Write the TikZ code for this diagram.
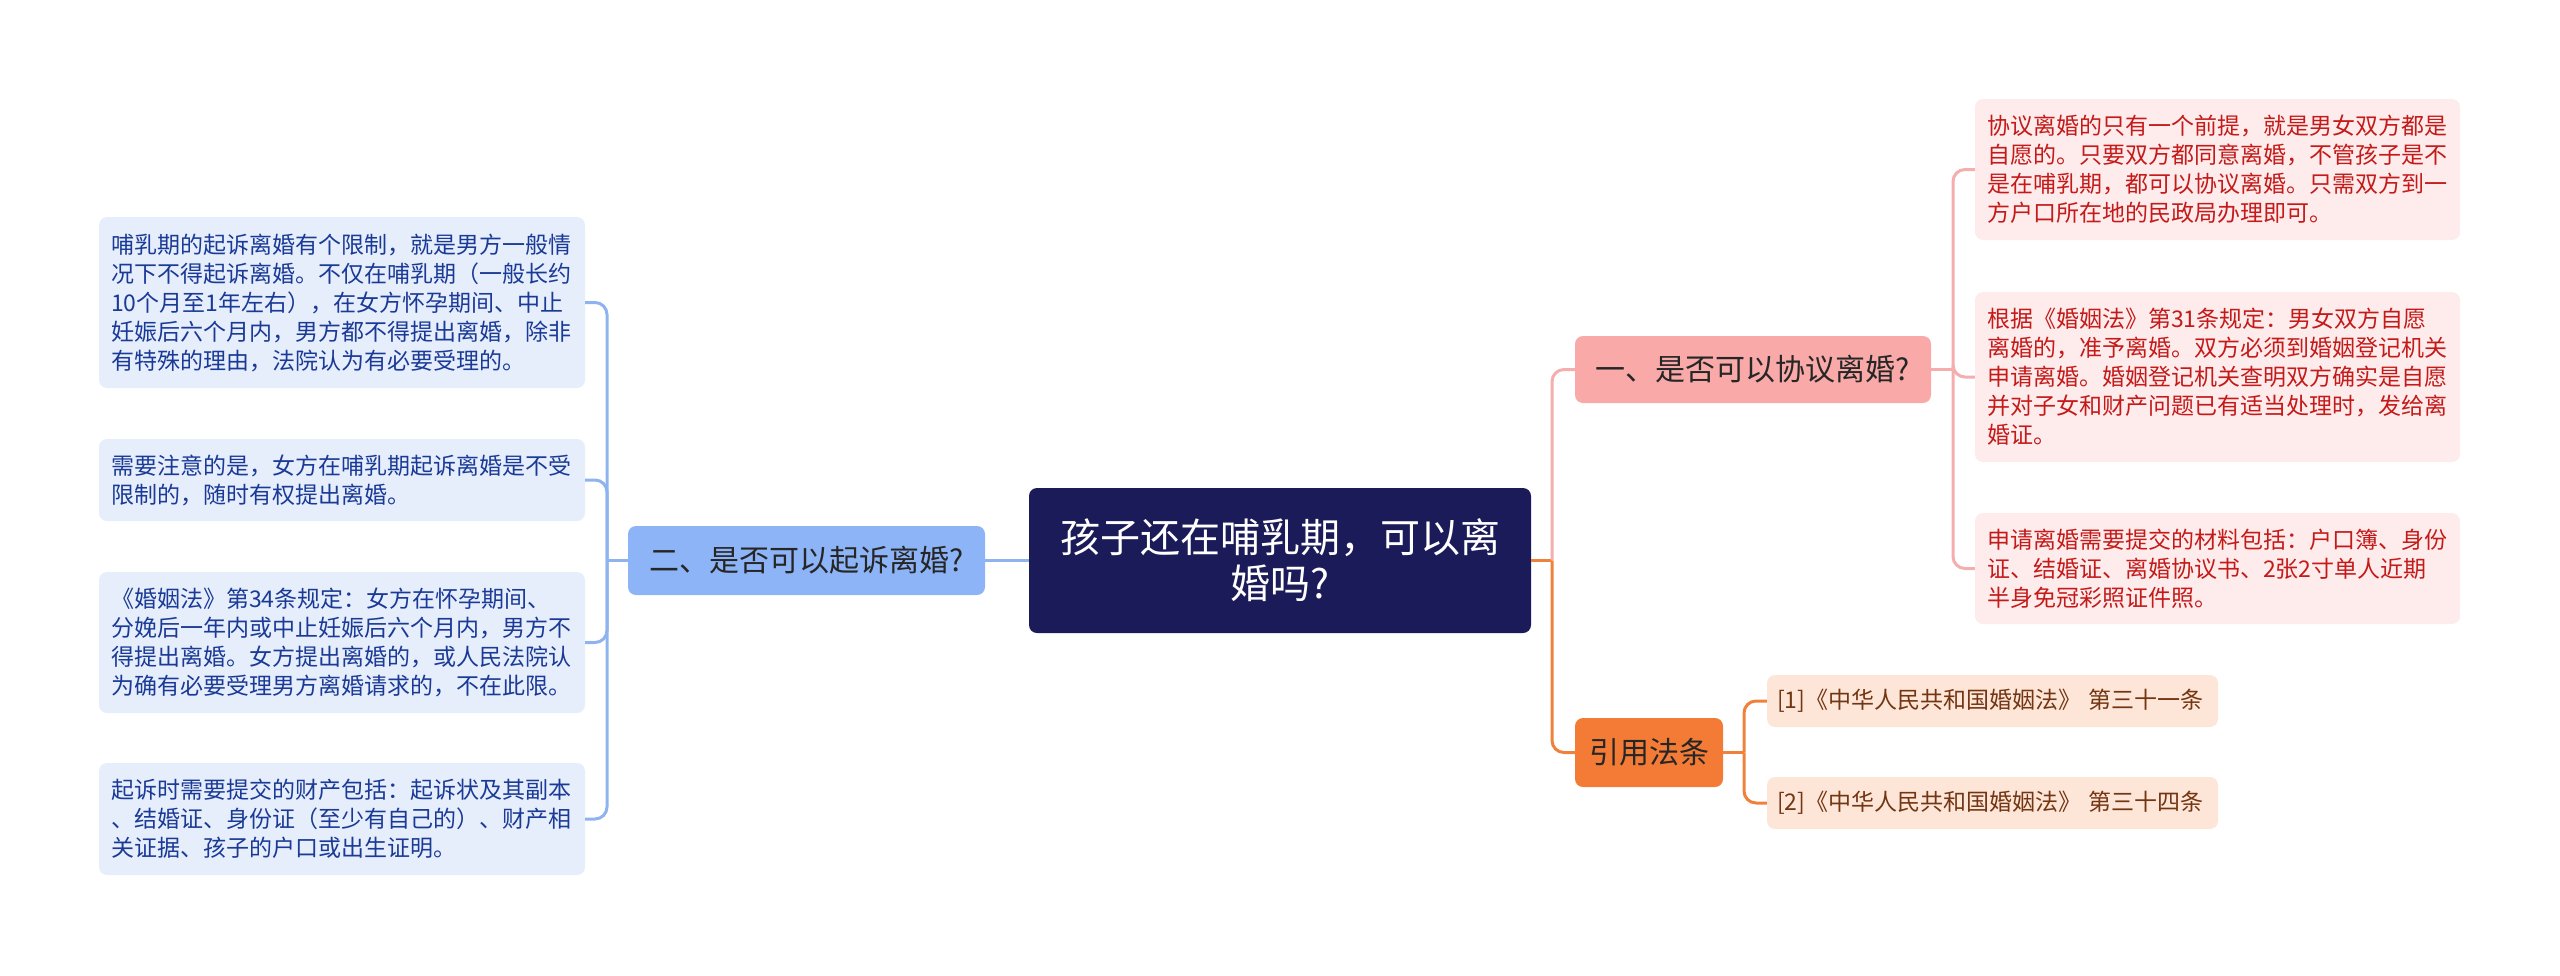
\documentclass[tikz,border=0pt]{standalone}
\usepackage{fontspec}
\setmainfont{Noto Sans CJK SC}
\definecolor{rootfill}{HTML}{1C1B59}
\definecolor{lbfill}{HTML}{8DB4F6}
\definecolor{llfill}{HTML}{E6EEFC}
\definecolor{lltext}{HTML}{1A3A96}
\definecolor{lline}{HTML}{8FB3EF}
\definecolor{rbfill}{HTML}{F8A9A8}
\definecolor{rlfill}{HTML}{FDECEB}
\definecolor{rltext}{HTML}{C41A1A}
\definecolor{rline}{HTML}{F5AEAE}
\definecolor{ofill}{HTML}{F47B36}
\definecolor{oline}{HTML}{F0813D}
\definecolor{olfill}{HTML}{FDE6D8}
\definecolor{oltext}{HTML}{733512}
\definecolor{darktext}{HTML}{262626}
\tikzset{
  box/.style={rounded corners=8pt, inner sep=0pt, draw=none},
  rootbox/.style={box, fill=rootfill, text=white, align=center,
    font=\fontsize{40pt}{46pt}\selectfont},
  branchbox/.style={box, align=center, text=darktext,
    font=\fontsize{30pt}{36pt}\selectfont},
  leafbox/.style={box, align=left, inner xsep=12pt,
    font=\fontsize{23pt}{29pt}\selectfont},
  leafL/.style={leafbox, fill=llfill, text=lltext, text width=462pt},
  leafR/.style={leafbox, fill=rlfill, text=rltext, text width=461pt},
  refitem/.style={leafbox, inner xsep=10pt, fill=olfill, text=oltext, text width=431pt},
  conn/.style={line width=3pt, rounded corners=12pt},
}
\begin{document}
\begin{tikzpicture}[x=1pt,y=-1pt]
\useasboundingbox (0,0) rectangle (2560,975);
% root
\node[rootbox, minimum width=502pt, minimum height=145pt] (root) at (1280,560.5)
  {孩子还在哺乳期，可以离\\婚吗?};
% left branch
\node[branchbox, fill=lbfill, minimum width=357pt, minimum height=69pt] (lb) at (806.5,560.5)
  {二、是否可以起诉离婚?};
\node[leafL, minimum height=171pt] (l1) at (342,302.5)
  {哺乳期的起诉离婚有个限制，就是男方一般情\\况下不得起诉离婚。不仅在哺乳期（一般长约\\10个月至1年左右），在女方怀孕期间、中止\\妊娠后六个月内，男方都不得提出离婚，除非\\有特殊的理由，法院认为有必要受理的。};
\node[leafL, minimum height=82pt] (l2) at (342,480)
  {需要注意的是，女方在哺乳期起诉离婚是不受\\限制的，随时有权提出离婚。};
\node[leafL, minimum height=141pt] (l3) at (342,642.5)
  {《婚姻法》第34条规定：女方在怀孕期间、\\分娩后一年内或中止妊娠后六个月内，男方不\\得提出离婚。女方提出离婚的，或人民法院认\\为确有必要受理男方离婚请求的，不在此限。};
\node[leafL, minimum height=112pt] (l4) at (342,819)
  {起诉时需要提交的财产包括：起诉状及其副本\\、结婚证、身份证（至少有自己的）、财产相\\关证据、孩子的户口或出生证明。};
% right branch
\node[branchbox, fill=rbfill, minimum width=356pt, minimum height=67pt] (rb) at (1753,369.5)
  {一、是否可以协议离婚?};
\node[leafR, minimum height=141pt] (ra) at (2217.5,169.5)
  {协议离婚的只有一个前提，就是男女双方都是\\自愿的。只要双方都同意离婚，不管孩子是不\\是在哺乳期，都可以协议离婚。只需双方到一\\方户口所在地的民政局办理即可。};
\node[leafR, minimum height=170pt] (rbb) at (2217.5,377)
  {根据《婚姻法》第31条规定：男女双方自愿\\离婚的，准予离婚。双方必须到婚姻登记机关\\申请离婚。婚姻登记机关查明双方确实是自愿\\并对子女和财产问题已有适当处理时，发给离\\婚证。};
\node[leafR, minimum height=111pt] (rc) at (2217.5,568.5)
  {申请离婚需要提交的材料包括：户口簿、身份\\证、结婚证、离婚协议书、2张2寸单人近期\\半身免冠彩照证件照。};
% references
\node[branchbox, fill=ofill, minimum width=148pt, minimum height=69pt] (ref) at (1649,752.5)
  {引用法条};
\node[refitem, minimum height=52pt] (r1) at (1992.5,701)
  {[1]《中华人民共和国婚姻法》 第三十一条};
\node[refitem, minimum height=52pt] (r2) at (1992.5,803)
  {[2]《中华人民共和国婚姻法》 第三十四条};
% junction coordinates
\coordinate (lt) at (607,560.5);
\coordinate (rt) at (1552,560.5);
\coordinate (rbt) at (1953,369.5);
\coordinate (reft) at (1744,752.5);
% connectors
\draw[conn, draw=lline] (root.west) -- (lb.east);
\draw[conn, draw=lline] (lb.west) -- (lt);
\foreach \n in {l1,l2,l3,l4} \draw[conn, draw=lline] (lt) |- (\n.east);
\draw[conn, draw=oline] (root.east) -- (rt);
\draw[conn, draw=rline] (rt) |- (rb.west);
\draw[conn, draw=oline] (rt) |- (ref.west);
\draw[conn, draw=rline] (rb.east) -- (rbt);
\foreach \n in {ra,rbb,rc} \draw[conn, draw=rline] (rbt) |- (\n.west);
\draw[conn, draw=oline] (ref.east) -- (reft);
\foreach \n in {r1,r2} \draw[conn, draw=oline] (reft) |- (\n.west);
\end{tikzpicture}
\end{document}
